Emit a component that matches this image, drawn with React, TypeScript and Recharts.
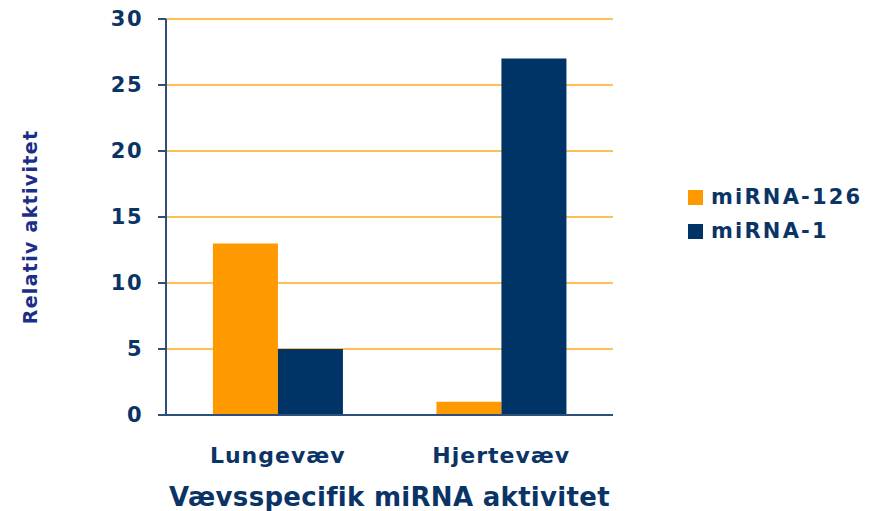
import { Bar, BarChart, CartesianGrid, Label, XAxis, YAxis } from "recharts";

const categories = ["Lungevæv", "Hjertevæv"];
const mirna126 = [13, 1];
const mirna1 = [5, 27];
const yTicks = [0, 5, 10, 15, 20, 25, 30];

const data = categories.map((name, i) => ({ name, mirna126: mirna126[i], mirna1: mirna1[i] }));

const FONT = "'DejaVu Sans', Verdana, sans-serif";
const TEXT = "#0b3466";
const AXIS = "#2c4f7c";

const legendItems = [
  { label: "miRNA-126", color: "#ff9900" },
  { label: "miRNA-1", color: "#003366" },
];

export default function App() {
  return (
    <div style={{ position: "fixed", left: 0, top: 0, width: 874, height: 511, background: "#fff", fontFamily: FONT }}>
      <BarChart
        width={874}
        height={511}
        data={data}
        margin={{ top: 19, right: 261, bottom: 36, left: 106 }}
        barCategoryGap="21%"
        barGap={0}
      >
        <CartesianGrid vertical={false} stroke="#ffaa22" strokeWidth={1.5} />
        <XAxis
          dataKey="name"
          height={60}
          tickLine={false}
          axisLine={{ stroke: AXIS, strokeWidth: 2 }}
          tick={{ fill: TEXT, fontSize: 22, fontWeight: 700, fontFamily: FONT, letterSpacing: 1 }}
          tickMargin={26}
        >
          <Label
            value="Vævsspecifik miRNA aktivitet"
            position="insideBottom"
            offset={-31}
            style={{ fill: TEXT, fontSize: 26, fontWeight: 700, fontFamily: FONT, letterSpacing: 0.3 }}
          />
        </XAxis>
        <YAxis
          width={60}
          domain={[0, 30]}
          ticks={yTicks}
          interval={0}
          tickSize={8}
          tickMargin={15}
          axisLine={{ stroke: AXIS, strokeWidth: 2 }}
          tickLine={{ stroke: AXIS, strokeWidth: 2 }}
          tick={{ fill: TEXT, fontSize: 21, fontWeight: 700, fontFamily: FONT, letterSpacing: 1.5 }}
        >
          <Label
            content={() => (
              <text
                transform="translate(37,227) rotate(-90)"
                textAnchor="middle"
                fill="#1c2e87"
                fontSize={19}
                fontWeight={700}
                fontFamily={FONT}
                letterSpacing={1.3}
              >
                Relativ aktivitet
              </text>
            )}
          />
        </YAxis>
        <Bar dataKey="mirna126" fill="#ff9900" isAnimationActive={false} />
        <Bar dataKey="mirna1" fill="#003366" isAnimationActive={false} />
      </BarChart>
      <div style={{ position: "absolute", left: 688, top: 180 }}>
        {legendItems.map((item) => (
          <div key={item.label} style={{ display: "flex", alignItems: "center", height: 34 }}>
            <span style={{ width: 15, height: 15, background: item.color, marginRight: 8 }} />
            <span style={{ color: TEXT, fontSize: 21, fontWeight: 700, letterSpacing: 2.2 }}>{item.label}</span>
          </div>
        ))}
      </div>
    </div>
  );
}
